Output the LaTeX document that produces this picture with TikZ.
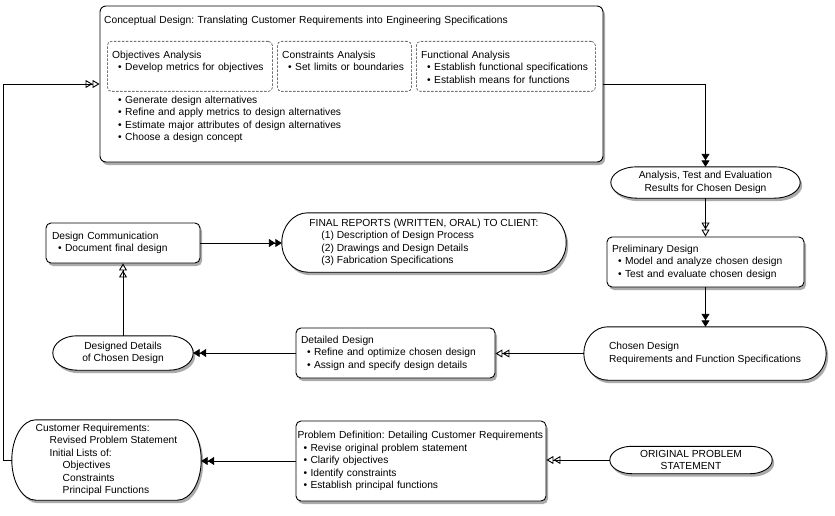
\documentclass[tikz,border=0pt]{standalone}
\usepackage{fontspec}
\setmainfont{Liberation Sans}
\usetikzlibrary{arrows.meta,shadows,calc}
\pgfdeclarelayer{background}
\pgfsetlayers{background,main}
\frenchspacing
\newcommand\bitem{\hspace*{6pt}\textbullet\ }
\newcommand\myfont{\frenchspacing\fontsize{10.25}{12.5}\selectfont\normalbaselineskip=12.5pt\relax}
\newcommand\stadshape[2]{%
\begin{pgfonlayer}{background}
\path[stadsty] let \p1=(#1.north west), \p2=(#1.south east), \n1={(\y1-\y2)/2} in
 (\x1+#2pt,\y1) -- (\x2-#2pt,\y1) arc[start angle=90,end angle=-90,x radius=#2pt,y radius={\n1*1pt}]
 -- (\x1+#2pt,\y2) arc[start angle=270,end angle=90,x radius=#2pt,y radius={\n1*1pt}] -- cycle;
\end{pgfonlayer}}
\tikzset{
  every node/.style={font=\myfont, inner sep=0pt},
  shad/.style={drop shadow={shadow xshift=2pt, shadow yshift=-3pt, fill=black!60, opacity=0.55}},
  box/.style={draw=black, line width=0.9pt, fill=white, rounded corners=5pt, shad, align=left, inner xsep=5pt},
  dbox/.style={draw=black!55, dash pattern=on 2.5pt off 1.5pt, line width=0.8pt, rounded corners=4pt, anchor=north west},
  stad/.style={draw=none},
  stadsty/.style={draw=black, line width=0.9pt, fill=white, shad},
  txt/.style={align=left, anchor=base west, text width=#1},
  txt/.default=200pt,
  conn/.style={line width=0.9pt},
  fa/.style={conn, -{Triangle[length=6.5pt,width=8pt,sep=0pt]Triangle[length=6.5pt,width=8pt]}},
  oa/.style={conn, -{Triangle[open,length=7pt,width=8pt,sep=0pt]Triangle[open,length=7pt,width=8pt]}},
}
\begin{document}
\begin{tikzpicture}[x=1pt,y=1pt]
\begin{pgfonlayer}{background}
\fill[white] (0,0) rectangle (835,-516);
\end{pgfonlayer}
\useasboundingbox (0,0) rectangle (835,-516);

% conceptual design
\node[box, rounded corners=6pt, minimum width=503pt, minimum height=156pt] (concept) at (351.5,-84) {};
\node[txt=480pt] (ctitle) at (104,-24) {Conceptual Design: Translating Customer Requirements into Engineering Specifications};
\node[dbox, minimum width=165pt, minimum height=50pt] (objbox) at (107,-41) {};
\node[dbox, minimum width=134pt, minimum height=50pt] (conbox) at (277,-41) {};
\node[dbox, minimum width=179pt, minimum height=50pt] (funbox) at (416,-41) {};
\node[txt] (objt) at (112,-58.5) {Objectives Analysis\\\bitem Develop metrics for objectives};
\node[txt] (cont) at (282,-58.5) {Constraints Analysis\\\bitem Set limits or boundaries};
\node[txt] (funt) at (421,-58.5) {Functional Analysis\\\bitem Establish functional specifications\\\bitem Establish means for functions};
\node[txt=300pt] (clist) at (112,-103.5) {\bitem Generate design alternatives\\\bitem Refine and apply metrics to design alternatives\\\bitem Estimate major attributes of design alternatives\\\bitem Choose a design concept};

% analysis
\node[stad, align=center, minimum width=189pt, minimum height=31pt] (analysis) at (705.5,-182.5) {Analysis, Test and Evaluation\\Results for Chosen Design};
\stadshape{analysis}{26}

% preliminary
\node[box, minimum width=197pt, minimum height=50pt, text width=187pt] (prelim) at (705.5,-262) {Preliminary Design\\\bitem Model and analyze chosen design\\\bitem Test and evaluate chosen design};

% chosen
\node[stad, align=left, minimum width=242pt, minimum height=53pt] (chosen) at (705,-353.5) {Chosen Design\\Requirements and Function Specifications};
\stadshape{chosen}{24}

% detailed
\node[box, minimum width=199pt, minimum height=50pt, text width=189pt] (detailed) at (395.5,-353) {Detailed Design\\\bitem Refine and optimize chosen design\\\bitem Assign and specify design details};

% designed details
\node[stad, align=center, minimum width=140pt, minimum height=34pt] (dd) at (123,-353) {Designed Details\\of Chosen Design};
\stadshape{dd}{24}

% design communication
\node[box, minimum width=154pt, minimum height=40pt, text width=142pt, inner xsep=6pt] (dc) at (123,-243) {Design Communication\\\bitem Document final design};

% final reports
\node[stad, align=left, minimum width=284pt, minimum height=59pt] (final) at (424,-242.5) {FINAL REPORTS (WRITTEN, ORAL) TO CLIENT:\\\hspace*{12pt}(1) Description of Design Process\\\hspace*{12pt}(2) Drawings and Design Details\\\hspace*{12pt}(3) Fabrication Specifications};
\stadshape{final}{26}

% original problem statement
\node[stad, align=center, minimum width=162pt, minimum height=27pt] (orig) at (691,-460) {ORIGINAL PROBLEM\\STATEMENT};
\stadshape{orig}{22}

% problem definition
\node[box, minimum width=250pt, minimum height=80pt, text width=247pt, inner xsep=1.5pt] (probdef) at (421,-461) {Problem Definition: Detailing Customer Requirements\\\bitem Revise original problem statement\\\bitem Clarify objectives\\\bitem Identify constraints\\\bitem Establish principal functions};

% customer requirements
\node[stad, align=left, minimum width=189pt, minimum height=80pt] (custreq) at (106.5,-460) {Customer Requirements:\\\hspace*{14pt}Revised Problem Statement\\\hspace*{14pt}Initial Lists of:\\\hspace*{27pt}Objectives\\\hspace*{27pt}Constraints\\\hspace*{27pt}Principal Functions};
\stadshape{custreq}{24}

% connectors
\draw[fa] (concept.east) -| (analysis.north);
\draw[oa] (analysis.south) -- (prelim.north);
\draw[fa] (prelim.south) -- (prelim.south |- chosen.north);
\draw[oa] (chosen.west) -- (chosen.west -| detailed.east);
\draw[fa] (detailed.west) -- (detailed.west -| dd.east);
\draw[oa] (dd.north) -- (dc.south);
\draw[fa] (dc.east) -- (dc.east -| final.west);
\draw[oa] (orig.west) -- (orig.west -| probdef.east);
\draw[fa] (probdef.west) -- (probdef.west -| custreq.east);
\coordinate (loopc) at (3,-84);
\draw[oa] (custreq.west) -| (loopc) -- (concept.west);
\end{tikzpicture}
\end{document}
